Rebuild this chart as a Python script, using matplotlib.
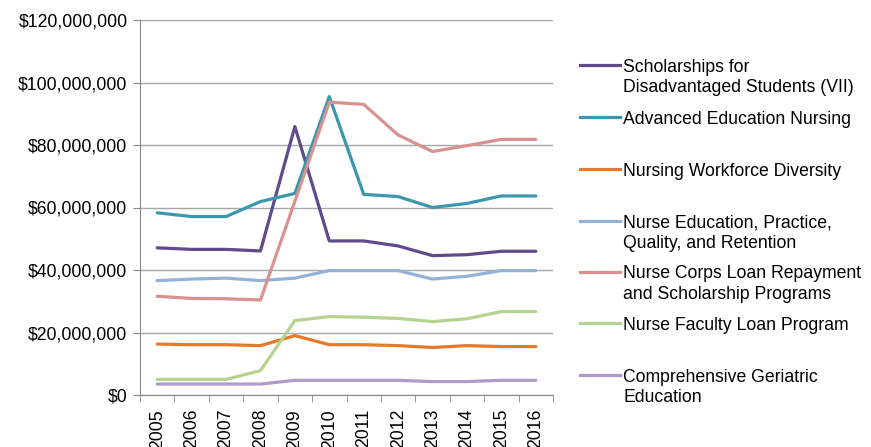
import numpy as np
import matplotlib.pyplot as plt
from matplotlib.lines import Line2D
from matplotlib.ticker import FuncFormatter, MultipleLocator, FixedLocator

plt.rcParams['font.family'] = ['Liberation Sans', 'DejaVu Sans']

years = [str(y) for y in range(2005, 2017)]

# values in millions of dollars
scholarships = [47.1, 46.6, 46.6, 46.1, 85.9, 49.3, 49.3, 47.7, 44.6, 44.9, 46.0, 46.0]
advanced_ed = [58.3, 57.1, 57.1, 61.9, 64.5, 95.5, 64.2, 63.5, 60.0, 61.3, 63.7, 63.7]
workforce_div = [16.3, 16.1, 16.1, 15.8, 19.0, 16.1, 16.1, 15.8, 15.2, 15.8, 15.5, 15.5]
nurse_ed = [36.6, 37.1, 37.4, 36.6, 37.4, 39.8, 39.8, 39.8, 37.1, 38.0, 39.8, 39.8]
nurse_corps = [31.6, 30.9, 30.8, 30.4, 62.0, 93.7, 93.0, 83.2, 77.9, 79.8, 81.8, 81.8]
faculty_loan = [5.0, 5.0, 5.0, 7.8, 23.8, 25.1, 24.9, 24.5, 23.5, 24.4, 26.7, 26.7]
geriatric = [3.5, 3.5, 3.5, 3.5, 4.7, 4.7, 4.7, 4.7, 4.3, 4.3, 4.7, 4.7]

labels = [
    "Scholarships for\nDisadvantaged Students (VII)",
    "Advanced Education Nursing",
    "Nursing Workforce Diversity",
    "Nurse Education, Practice,\nQuality, and Retention",
    "Nurse Corps Loan Repayment\nand Scholarship Programs",
    "Nurse Faculty Loan Program",
    "Comprehensive Geriatric\nEducation",
]
series = [scholarships, advanced_ed, workforce_div, nurse_ed, nurse_corps, faculty_loan, geriatric]
colors = ["#5F4A8B", "#3A97AE", "#E8792A", "#94B2D8", "#D9918F", "#B4D38E", "#AE9CC8"]

fig = plt.figure(figsize=(8.71, 4.47), dpi=100)
ax = fig.add_axes([140 / 871, 1 - 395 / 447, 413 / 871, 375 / 447])

x = np.arange(len(years))
for vals, c in zip(series, colors):
    ax.plot(x, np.array(vals) * 1e6, color=c, linewidth=2.3, solid_capstyle='round')

ax.set_xlim(-0.5, len(years) - 0.5)
ax.set_ylim(0, 120e6)
ax.yaxis.set_major_locator(MultipleLocator(20e6))
ax.yaxis.set_major_formatter(FuncFormatter(lambda v, _: "${:,.0f}".format(v)))
ax.set_xticks(x)
ax.set_xticklabels(years, rotation=90)
ax.xaxis.set_minor_locator(FixedLocator(np.arange(-0.5, len(years), 1)))
ax.tick_params(axis='x', which='major', length=0, pad=10, labelsize=12.7)
ax.tick_params(axis='x', which='minor', length=5, color='#888888')
ax.tick_params(axis='y', length=5, color='#888888', labelsize=12.7, pad=4)

ax.grid(axis='y', color='#A6A6A6', linewidth=1)
ax.set_axisbelow(True)
for s in ['top', 'right']:
    ax.spines[s].set_visible(False)
for s in ['left', 'bottom']:
    ax.spines[s].set_color('#888888')

# legend drawn by hand to match the spacing
ys = [65, 117, 169, 221, 272, 323, 375]
for lab, c, yy in zip(labels, colors, ys):
    yf = 1 - yy / 447
    fig.add_artist(Line2D([580 / 871, 620 / 871], [yf, yf], color=c, linewidth=2.3))
    fig.text(623 / 871, yf + 6.5 / 447, lab, fontsize=12.7, va='top', ha='left', linespacing=1.3)

fig.savefig("out.png", dpi=100)
